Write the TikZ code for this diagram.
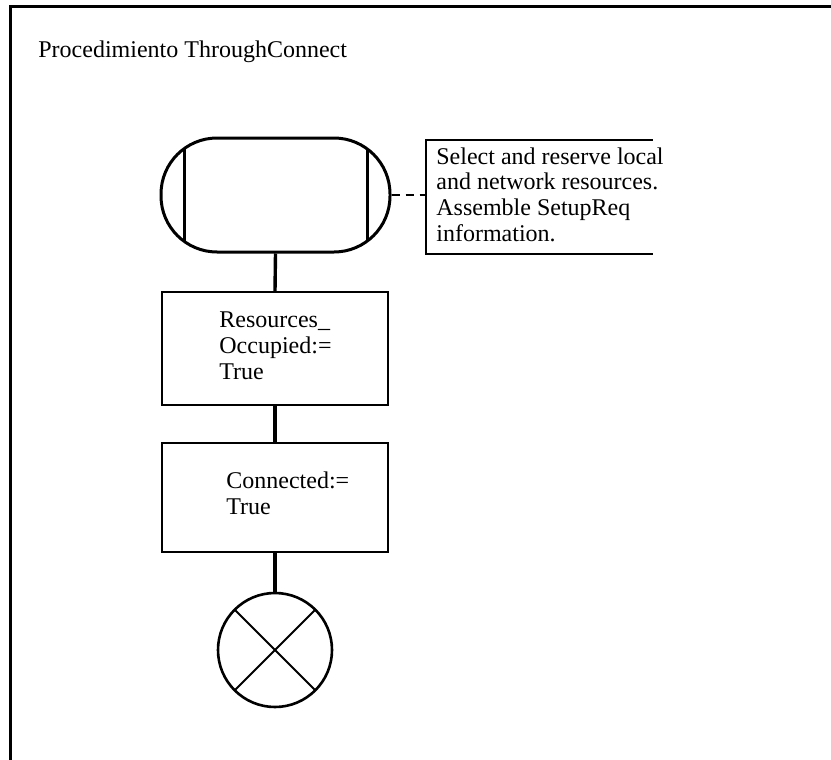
\documentclass[tikz,border=0pt]{standalone}
\usepackage{fontspec}
\setmainfont{Liberation Serif}

\begin{document}
\begin{tikzpicture}[x=.5pt, y=-.5pt, font=\fontsize{12}{12.8}\selectfont,
    box/.style={draw, line width=1pt, minimum width=113pt, inner sep=0pt},
    txt/.style={anchor=base west, align=left, inner sep=0pt},
    link/.style={line width=1.7pt}]
    \useasboundingbox (0, 0) rectangle (831, 760);
    \draw[line width=1.25pt] (10.5, 760) -- (10.5, 6.5) -- (831, 6.5); %外框只画左边和上边
    \node[txt] (title) at (38, 57) {Procedimiento ThroughConnect};

    %开始符号: 两端是圆弧, path picture 画两条竖线(自动裁剪到圆弧)
    \node[draw, line width=1.5pt, rounded corners=28pt, minimum width=114.5pt, minimum height=57pt, inner sep=0pt,
        path picture={
            \draw[line width=1.5pt] ([xshift=11.5pt]path picture bounding box.north west) -- ([xshift=11.5pt]path picture bounding box.south west);
            \draw[line width=1.5pt] ([xshift=-11.5pt]path picture bounding box.north east) -- ([xshift=-11.5pt]path picture bounding box.south east);
        }] (start) at (275.5, 195) {};

    %注释框: 右边不封口; 多行文字的 base 是最后一行
    \node[minimum width=113pt, minimum height=56.5pt, inner sep=0pt, anchor=north west] (note) at (426, 140) {};
    \draw[line width=1.25pt] (note.north east) -- (note.north west) -- (note.south west) -- (note.south east);
    \node[txt] (notetxt) at ([xshift=5pt, yshift=-50.5pt]note.north west) {Select and reserve local\\and network resources.\\Assemble SetupReq\\information.};
    \draw[line width=1.4pt, dash pattern=on 4pt off 3pt] (start.east) -- (start.east -| note.west);

    \node[box, minimum height=56.5pt] (occupied) at (275, 348.5) {};
    \node[txt] (occupiedtxt) at ([xshift=29pt, yshift=-44pt]occupied.north west) {Resources\_\\Occupied:=\\True};

    \node[box, minimum height=54.5pt] (connected) at (275, 497.5) {};
    \node[txt] (connectedtxt) at ([xshift=32.5pt, yshift=-36pt]connected.north west) {Connected:=\\True};

    %结束符号: 圆里画叉
    \node[draw, circle, line width=1.3pt, minimum size=57pt, inner sep=0pt,
        path picture={
            \draw[line width=.9pt] (path picture bounding box.north west) -- (path picture bounding box.south east);
            \draw[line width=.9pt] (path picture bounding box.north east) -- (path picture bounding box.south west);
        }] (stop) at (275, 650) {};

    \draw[link] (start.south) -- (occupied.north);
    \draw[link] (occupied.south) -- (connected.north);
    \draw[link] (connected.south) -- (stop.north);
\end{tikzpicture}
\end{document}
